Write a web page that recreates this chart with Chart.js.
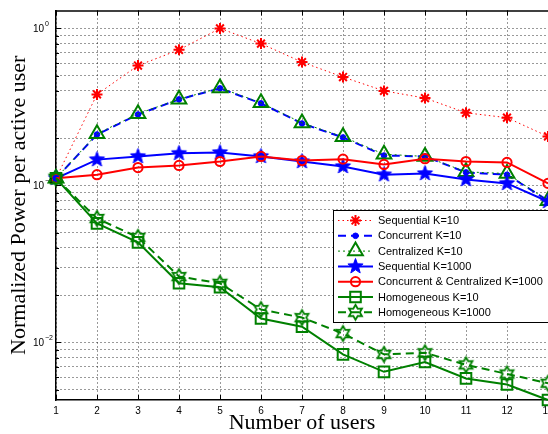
<!DOCTYPE html>
<html lang="en">
<head>
  <meta charset="UTF-8" />
  <title>Normalized Power per active user</title>
  <script src="https://cdn.jsdelivr.net/npm/chart.js"></script>
  <style>
    html, body { margin: 0; padding: 0; background: #fff; overflow: hidden; }
    #wrap { width: 548px; height: 434px; overflow: hidden; }
    canvas { display: block; }
  </style>
</head>
<body>
  <div id="wrap"><canvas id="powerChart" width="562" height="434"></canvas></div>

  <script>
    // data
    const users = [1, 2, 3, 4, 5, 6, 7, 8, 9, 10, 11, 12, 13];
    const seqK10 = [0.111, 0.38, 0.58, 0.73, 1.0, 0.80, 0.61, 0.49, 0.40, 0.36, 0.29, 0.27, 0.205];
    const concK10 = [0.111, 0.211, 0.283, 0.353, 0.415, 0.333, 0.248, 0.202, 0.155, 0.153, 0.121, 0.117, 0.080];
    const centK10 = [0.111, 0.213, 0.286, 0.354, 0.418, 0.336, 0.250, 0.204, 0.158, 0.153, 0.122, 0.119, 0.080];
    const seqK1000 = [0.111, 0.146, 0.153, 0.160, 0.162, 0.153, 0.142, 0.132, 0.117, 0.119, 0.109, 0.103, 0.079];
    const ccK1000 = [0.111, 0.117, 0.130, 0.134, 0.142, 0.153, 0.144, 0.147, 0.136, 0.148, 0.142, 0.140, 0.103];
    const homK10 = [0.111, 0.0573, 0.0434, 0.0238, 0.0225, 0.0142, 0.0126, 0.0084, 0.0065, 0.0075, 0.0059, 0.0054, 0.0043];
    const homK1000 = [0.111, 0.0616, 0.0467, 0.0263, 0.0238, 0.0162, 0.0144, 0.0114, 0.0084, 0.0086, 0.0072, 0.0063, 0.0055];
    const seriesNames = [
      "Sequential K=10",
      "Concurrent K=10",
      "Centralized K=10",
      "Sequential K=1000",
      "Concurrent & Centralized K=1000",
      "Homogeneous K=10",
      "Homogeneous K=1000"
    ];
    const yDecades = [0, -1, -2];
    const yMin = 0.0043, yMax = 1.3;

    const RED = "#ff0000", BLUE = "#0000ff", GREEN = "#008000";
    const SANS = '"Liberation Sans", Arial, sans-serif';
    const SERIF = '"Liberation Serif", "Times New Roman", serif';

    // star shaped markers (pentagram / hexagram) drawn once on small canvases
    function starMarker(points, outer, inner, fill, stroke, lw) {
      const c = document.createElement("canvas");
      const s = Math.ceil(2 * outer + lw + 2);
      c.width = c.height = s;
      const g = c.getContext("2d");
      g.beginPath();
      for (let i = 0; i < points * 2; i++) {
        const r = i % 2 ? inner : outer;
        const a = -Math.PI / 2 + i * Math.PI / points;
        const px = s / 2 + r * Math.cos(a), py = s / 2 + r * Math.sin(a);
        if (i === 0) g.moveTo(px, py); else g.lineTo(px, py);
      }
      g.closePath();
      if (fill) { g.fillStyle = fill; g.fill(); }
      g.lineWidth = lw;
      g.strokeStyle = stroke;
      g.stroke();
      return c;
    }
    const pentagram = starMarker(5, 8, 3.3, BLUE, BLUE, 1);
    const hexagram = starMarker(6, 7.5, 4.3, null, GREEN, 1.8);

    const pts = arr => users.map((u, i) => ({ x: u, y: arr[i] }));
    const none = "rgba(0,0,0,0)";

    const datasets = [
      { data: pts(seqK10), borderColor: RED, borderWidth: 1, borderDash: [1.5, 3],
        pointStyle: "star", pointRadius: 5.5, pointBorderWidth: 2, pointBorderColor: RED, pointBackgroundColor: RED },
      { data: pts(concK10), borderColor: BLUE, borderWidth: 2, borderDash: [8, 5],
        pointStyle: "circle", pointRadius: 2.8, pointBorderWidth: 1, pointBorderColor: BLUE, pointBackgroundColor: BLUE },
      { data: pts(centK10), borderColor: GREEN, borderWidth: 1, borderDash: [2, 3],
        pointStyle: "triangle", pointRadius: 8.5, pointBorderWidth: 2, pointBorderColor: GREEN, pointBackgroundColor: none },
      { data: pts(seqK1000), borderColor: BLUE, borderWidth: 2,
        pointStyle: pentagram, pointRadius: 8, pointBorderWidth: 1, pointBorderColor: BLUE, pointBackgroundColor: BLUE },
      { data: pts(ccK1000), borderColor: RED, borderWidth: 2,
        pointStyle: "circle", pointRadius: 4.6, pointBorderWidth: 2, pointBorderColor: RED, pointBackgroundColor: none },
      { data: pts(homK10), borderColor: GREEN, borderWidth: 2,
        pointStyle: "rect", pointRadius: 7.5, pointBorderWidth: 2, pointBorderColor: GREEN, pointBackgroundColor: none },
      { data: pts(homK1000), borderColor: GREEN, borderWidth: 2, borderDash: [8, 5],
        pointStyle: hexagram, pointRadius: 7.5, pointBorderWidth: 2, pointBorderColor: GREEN, pointBackgroundColor: none }
    ].map((d, i) => Object.assign(d, {
      label: seriesNames[i], fill: false, tension: 0, order: 10 - i,
      clip: { left: 10, right: 20, top: 10, bottom: 10 }
    }));

    // box top line, inward ticks, y decade labels and legend
    const decorations = {
      id: "decorations",
      afterDraw(chart) {
        const { ctx, chartArea: a, scales: { x, y } } = chart;
        ctx.save();
        ctx.setLineDash([]);
        ctx.strokeStyle = "#000";
        ctx.lineWidth = 1.5;
        ctx.beginPath();
        ctx.moveTo(a.left, a.top + 0.5);
        ctx.lineTo(a.right + 20, a.top + 0.5);
        ctx.stroke();

        ctx.lineWidth = 1;
        ctx.beginPath();
        x.ticks.forEach(t => {
          const px = Math.round(x.getPixelForValue(t.value)) + 0.5;
          ctx.moveTo(px, a.bottom); ctx.lineTo(px, a.bottom - 5);
          ctx.moveTo(px, a.top); ctx.lineTo(px, a.top + 5);
        });
        y.ticks.forEach(t => {
          const py = Math.round(y.getPixelForValue(t.value)) + 0.5;
          const major = Math.abs(Math.log10(t.value) - Math.round(Math.log10(t.value))) < 1e-6;
          ctx.moveTo(a.left, py); ctx.lineTo(a.left + (major ? 5 : 3), py);
        });
        ctx.stroke();

        // y labels: 10 with superscript exponent
        ctx.fillStyle = "#000";
        yDecades.forEach(e => {
          const py = y.getPixelForValue(Math.pow(10, e));
          ctx.font = "10px " + SANS;
          ctx.textAlign = "right";
          ctx.textBaseline = "middle";
          ctx.fillText("10", a.left - 12, py + 1);
          ctx.font = "7px " + SANS;
          ctx.textAlign = "left";
          ctx.fillText(e === 0 ? "0" : "\u2212" + Math.abs(e), a.left - 11, py - 4);
        });

        // legend
        const lx = 333, ly = 210, lw = 215, lh = 112;
        ctx.fillStyle = "#fff";
        ctx.fillRect(lx, ly, lw, lh);
        ctx.strokeStyle = "#000";
        ctx.lineWidth = 1;
        ctx.strokeRect(lx + 0.5, ly + 0.5, lw, lh);
        chart.data.datasets.forEach((d, i) => {
          const ry = ly + 10.5 + i * 15.3;
          ctx.strokeStyle = d.borderColor;
          ctx.lineWidth = d.borderWidth;
          ctx.setLineDash(d.borderDash || []);
          ctx.beginPath();
          ctx.moveTo(lx + 5, ry); ctx.lineTo(lx + 40, ry);
          ctx.stroke();
          ctx.setLineDash([]);
          ctx.strokeStyle = d.pointBorderColor;
          ctx.fillStyle = d.pointBackgroundColor;
          ctx.lineWidth = d.pointBorderWidth;
          Chart.helpers.drawPoint(ctx, {
            pointStyle: d.pointStyle, radius: d.pointRadius, borderWidth: d.pointBorderWidth, rotation: 0
          }, lx + 22.5, ry);
          ctx.fillStyle = "#000";
          ctx.font = "11px " + SANS;
          ctx.textAlign = "left";
          ctx.textBaseline = "middle";
          ctx.fillText(d.label, lx + 45, ry + 0.5);
        });
        ctx.restore();
      }
    };

    const gridStyle = { color: "rgba(0,0,0,0.8)", lineWidth: 1, drawTicks: false };
    const borderStyle = { display: true, color: "#000", width: 1.5, dash: [1, 3] };

    new Chart(document.getElementById("powerChart").getContext("2d"), {
      type: "line",
      data: { datasets },
      plugins: [decorations],
      options: {
        responsive: false,
        animation: false,
        events: [],
        layout: { padding: { top: 10, right: 14, left: 0, bottom: 0 } },
        plugins: { legend: { display: false }, tooltip: { enabled: false } },
        scales: {
          x: {
            type: "linear",
            min: 1,
            max: 13,
            afterFit: s => { s.height = 34; },
            ticks: { stepSize: 1, padding: 5, color: "#000", font: { family: SANS, size: 10 } },
            grid: gridStyle,
            border: borderStyle,
            title: {
              display: true, text: "Number of users", color: "#000",
              font: { family: SERIF, size: 22, lineHeight: 1 }, padding: { top: 0, bottom: 0 }
            }
          },
          y: {
            type: "logarithmic",
            min: yMin,
            max: yMax,
            afterFit: s => { s.width = 56; },
            afterBuildTicks: s => {
              s.ticks = s.ticks.filter(t => {
                const e = Math.floor(Math.log10(t.value) + 1e-9);
                const m = t.value / Math.pow(10, e);
                return Math.abs(m - Math.round(m)) < 1e-6;
              });
            },
            ticks: { display: false },
            grid: gridStyle,
            border: borderStyle,
            title: {
              display: true, text: "Normalized Power per active user", color: "#000",
              font: { family: SERIF, size: 22, lineHeight: 1 }, padding: { top: 8.5, bottom: 0 }
            }
          }
        }
      }
    });
  </script>
</body>
</html>
